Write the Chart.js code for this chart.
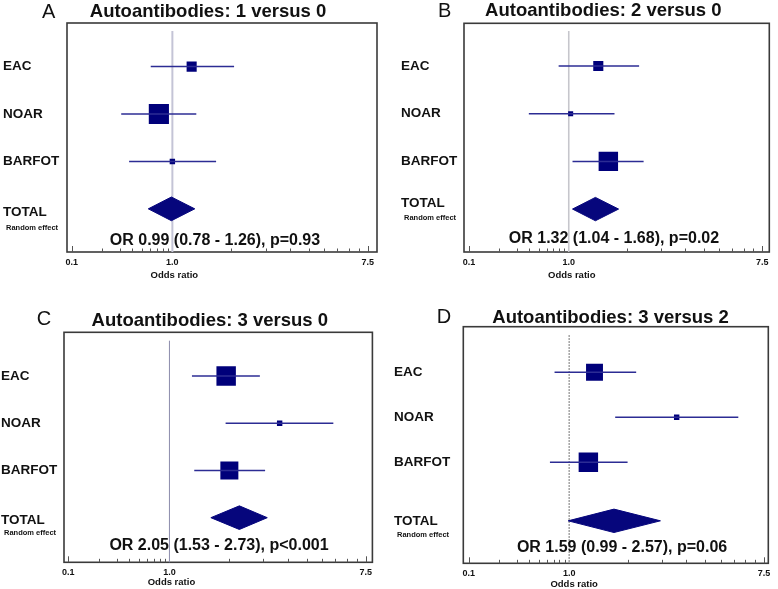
<!DOCTYPE html>
<html>
<head>
<meta charset="utf-8">
<script src="https://cdn.jsdelivr.net/npm/chart.js@4.4.1/dist/chart.umd.min.js"></script>
<style>
  html, body { margin: 0; padding: 0; background: #fff; }
  #wrap { position: relative; width: 778px; height: 589px; overflow: hidden; }
  #wrap canvas { position: absolute; }
</style>
</head>
<body>
<div id="wrap"></div>
<script>
// ---- data ----
const PANEL_LETTERS = ['A', 'B', 'C', 'D'];
const PANEL_TITLES = [
  'Autoantibodies: 1 versus 0',
  'Autoantibodies: 2 versus 0',
  'Autoantibodies: 3 versus 0',
  'Autoantibodies: 3 versus 2'
];
const ROW_LABELS = ['EAC', 'NOAR', 'BARFOT', 'TOTAL'];
const TOTAL_SUB = 'Random effect';
const X_TITLE = 'Odds ratio';
const X_TICK_LABELS = ['0.1', '1.0', '7.5'];
const AXIS_MIN = 0.354; // left end of the axis (labelled 0.1 in the figure)
const AXIS_MAX = 7.5;

// odds ratio, lower and upper CI, study weight - per panel
const OR_A = [1.22, 0.87, 1.00];
const LO_A = [0.80, 0.59, 0.64];
const HI_A = [1.89, 1.28, 1.57];
const WT_A = [28, 56, 15];
const TOTAL_A = [0.99, 0.78, 1.26];

const OR_B = [1.36, 1.02, 1.51];
const LO_B = [0.90, 0.66, 1.04];
const HI_B = [2.08, 1.61, 2.18];
const WT_B = [28, 14, 54];
const TOTAL_B = [1.32, 1.04, 1.68];

const OR_C = [1.79, 3.10, 1.85];
const LO_C = [1.26, 1.78, 1.29];
const HI_C = [2.53, 5.38, 2.67];
const WT_C = [54, 15, 50];
const TOTAL_C = [2.05, 1.53, 2.73];

const OR_D = [1.30, 3.04, 1.22];
const LO_D = [0.86, 1.61, 0.82];
const HI_D = [2.00, 5.75, 1.83];
const WT_D = [47, 15, 54];
const TOTAL_D = [1.59, 0.99, 2.57];

const P_VALUES = ['p=0.93', 'p=0.02', 'p<0.001', 'p=0.06'];

// ---- styles / layout ----
const FONT = '"Liberation Sans", Arial, Helvetica, sans-serif';
const TEXT_COLOR = '#111';
const SQUARE_COLOR = '#00007a';
const CI_COLOR = '#2c2c94';
const DIAMOND_COLOR = '#06067c';
const SIZE_K = 0.36;

const LAYOUTS = [
  { left: 0, top: 0, w: 389, h: 294, area: { l: 71.7, r: 367.7, t: 23, b: 252 }, labelX: 3,
    yMin: -0.92, yMax: 3.91, totalRow: 3, totalShift: 0.07, subDy: 19, frame: [4.7, 9.3],
    ref: { color: '#c4c4d6', width: 2, dash: [], top: 8 }, title: [208, 11.5], letter: [42, 12],
    orDx: -4.7, orDy: -11.5, oddsDx: 2, oddsDy: 23.7, diamondH: 0.25 },
  { left: 389, top: 0, w: 389, h: 294, area: { l: 80, r: 373.3, t: 23.3, b: 252 }, labelX: 12,
    yMin: -0.895, yMax: 3.90, totalRow: 3, totalShift: -0.12, subDy: 9, frame: [5, 7],
    ref: { color: '#c6c6cc', width: 1.6, dash: [], top: 7.7 }, title: [214.3, 11], letter: [49, 11],
    orDx: -1.7, orDy: -13, oddsDx: 3, oddsDy: 23, diamondH: 0.245 },
  { left: 0, top: 294, w: 389, h: 295, area: { l: 68.3, r: 365.7, t: 38.3, b: 268.3 }, labelX: 1,
    yMin: -0.926, yMax: 3.945, totalRow: 3, totalShift: 0.05, subDy: 15, frame: [4.3, 6.7],
    ref: { color: '#8c8cac', width: 1, dash: [], top: 8.4 }, title: [209.8, 27], letter: [36.7, 25],
    orDx: 2, orDy: -16.5, oddsDx: 2, oddsDy: 20.4, diamondH: 0.25 },
  { left: 389, top: 294, w: 389, h: 295, area: { l: 79.7, r: 375, t: 32.7, b: 269.3 }, labelX: 5,
    yMin: -1.013, yMax: 4.244, totalRow: 3.3, totalShift: 0.02, subDy: 14, frame: [5.4, 4.3],
    ref: { color: '#777', width: 1, dash: [2, 1], top: 8.3 }, title: [221.5, 24], letter: [47.7, 23.5],
    orDx: 5.7, orDy: -15.3, oddsDx: 5, oddsDy: 21.4, diamondH: 0.26 }
];

const PANEL_DATA = [
  [OR_A, LO_A, HI_A, WT_A, TOTAL_A],
  [OR_B, LO_B, HI_B, WT_B, TOTAL_B],
  [OR_C, LO_C, HI_C, WT_C, TOTAL_C],
  [OR_D, LO_D, HI_D, WT_D, TOTAL_D]
];

// small tick marks: a 0.1-1 decade squeezed left of 1.0, a 1-10 decade right of it
function axisMarks() {
  const marks = [];
  for (let k = 1; k <= 9; k++) marks.push({ v: Math.pow(AXIS_MIN, 1 - Math.log10(k)), end: k === 1 });
  for (let k = 2; k <= 10; k++) marks.push({ v: Math.pow(AXIS_MAX, Math.log10(k)), end: k === 10 });
  return marks;
}
const MARKS = axisMarks();

const forestDecor = {
  id: 'forestDecor',
  beforeDatasetsDraw(chart, args, o) {
    const { ctx, chartArea: a, scales: { x } } = chart;
    const L = o.layout;
    ctx.save();
    // frame
    ctx.strokeStyle = '#3a3a3a';
    ctx.lineWidth = 1.6;
    ctx.strokeRect(a.left - L.frame[0], a.top, a.right - a.left + L.frame[0] + L.frame[1], a.bottom - a.top);
    // inward tick marks
    ctx.strokeStyle = '#555';
    ctx.lineWidth = 1;
    MARKS.forEach(m => {
      const px = Math.round(x.getPixelForValue(m.v)) + 0.5;
      ctx.beginPath();
      ctx.moveTo(px, a.bottom);
      ctx.lineTo(px, a.bottom - (m.end ? 6 : 3.5));
      ctx.stroke();
    });
    // reference line at OR = 1
    const x1 = x.getPixelForValue(1);
    ctx.strokeStyle = L.ref.color;
    ctx.lineWidth = L.ref.width;
    ctx.setLineDash(L.ref.dash);
    ctx.beginPath();
    ctx.moveTo(x1, a.top + L.ref.top);
    ctx.lineTo(x1, a.bottom);
    ctx.stroke();
    ctx.restore();
  },
  afterDraw(chart, args, o) {
    const { ctx, chartArea: a, scales: { x, y } } = chart;
    const L = o.layout;
    ctx.save();
    ctx.fillStyle = TEXT_COLOR;
    ctx.textBaseline = 'middle';
    ctx.textAlign = 'left';
    ctx.font = '20px ' + FONT;
    ctx.fillText(o.letter, L.letter[0], L.letter[1]);
    ctx.textAlign = 'center';
    ctx.font = 'bold 18.5px ' + FONT;
    ctx.fillText(o.title, L.title[0], L.title[1]);
    ctx.font = 'bold 16px ' + FONT;
    ctx.fillText(o.summary, (a.left + a.right) / 2 + L.orDx, a.bottom + L.orDy);
    ctx.font = 'bold 9.5px ' + FONT;
    ctx.fillText(X_TITLE, x.getPixelForValue(1) + L.oddsDx, a.bottom + L.oddsDy);
    ctx.textAlign = 'left';
    ctx.font = 'bold 7.5px ' + FONT;
    ctx.fillText(TOTAL_SUB, L.labelX + 3, y.getPixelForValue(L.totalRow) + L.subDy);
    ctx.restore();
  }
};

const wrap = document.getElementById('wrap');

PANEL_DATA.forEach((d, p) => {
  const [or, lo, hi, wt, total] = d;
  const L = LAYOUTS[p];
  const canvas = document.createElement('canvas');
  canvas.width = L.w;
  canvas.height = L.h;
  canvas.style.left = L.left + 'px';
  canvas.style.top = L.top + 'px';
  wrap.appendChild(canvas);

  const datasets = [];
  or.forEach((v, i) => {
    datasets.push({
      data: [{ x: lo[i], y: i }, { x: hi[i], y: i }],
      showLine: true, borderColor: CI_COLOR, borderWidth: 1.5, pointRadius: 0
    });
  });
  datasets.push({
    data: or.map((v, i) => ({ x: v, y: i })),
    pointStyle: 'rect',
    pointRadius: wt.map(w => w * SIZE_K / (2 * Math.SQRT1_2)),
    backgroundColor: SQUARE_COLOR, borderWidth: 0
  });
  const r = L.totalRow, h = L.diamondH;
  datasets.push({
    data: [
      { x: total[1], y: r }, { x: total[0], y: r - h },
      { x: total[2], y: r }, { x: total[0], y: r + h }, { x: total[1], y: r }
    ],
    showLine: true, fill: 'shape', tension: 0,
    borderColor: DIAMOND_COLOR, backgroundColor: DIAMOND_COLOR, borderWidth: 1, pointRadius: 0
  });

  const summary = 'OR ' + total[0].toFixed(2) + ' (' + total[1].toFixed(2) + ' - ' +
    total[2].toFixed(2) + '), ' + P_VALUES[p];

  new Chart(canvas, {
    type: 'scatter',
    data: { datasets },
    options: {
      responsive: false,
      animation: false,
      events: [],
      layout: {
        padding: { left: L.labelX, top: L.area.t, right: L.w - L.area.r, bottom: L.h - L.area.b - 22 }
      },
      plugins: {
        legend: { display: false },
        tooltip: { enabled: false },
        forestDecor: { layout: L, letter: PANEL_LETTERS[p], title: PANEL_TITLES[p], summary }
      },
      scales: {
        x: {
          type: 'logarithmic', min: AXIS_MIN, max: AXIS_MAX, bounds: 'data',
          afterBuildTicks: s => { s.ticks = [AXIS_MIN, 1, AXIS_MAX].map(v => ({ value: v })); },
          afterFit: s => { s.height = 22; },
          grid: { display: false, drawTicks: false },
          border: { display: false },
          ticks: {
            autoSkip: false, maxRotation: 0, padding: 5, color: TEXT_COLOR,
            font: { family: FONT, size: 9, weight: 'bold' },
            callback: (v, i) => X_TICK_LABELS[i]
          }
        },
        y: {
          type: 'linear', reverse: true, min: L.yMin, max: L.yMax, bounds: 'data',
          afterBuildTicks: s => {
            s.ticks = [0, 1, 2, L.totalRow + L.totalShift].map(v => ({ value: v }));
          },
          afterFit: s => { s.width = L.area.l - L.labelX; },
          grid: { display: false, drawTicks: false },
          border: { display: false },
          ticks: {
            autoSkip: false, crossAlign: 'far', padding: 0, color: TEXT_COLOR,
            font: { family: FONT, size: 13.5, weight: 'bold' },
            callback: (v, i) => ROW_LABELS[i]
          }
        }
      }
    },
    plugins: [forestDecor]
  });
});
</script>
</body>
</html>
